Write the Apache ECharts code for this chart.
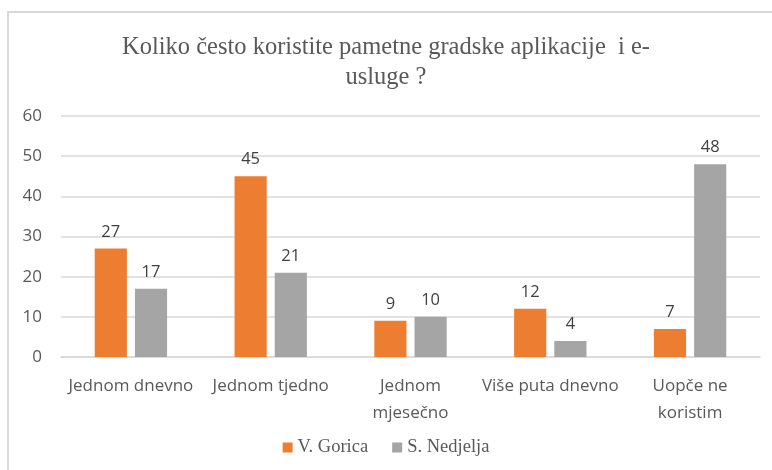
<!DOCTYPE html>
<html lang="hr">
<head>
<meta charset="UTF-8">
<title>Koliko često koristite pametne gradske aplikacije</title>
<script src="https://cdn.jsdelivr.net/npm/echarts@6/dist/echarts.min.js"></script>
<style>
  html, body { margin: 0; padding: 0; background: #fff; }
  #main { width: 772px; height: 470px; }
</style>
</head>
<body>
<div id="main"></div>
<script>
// podaci
var categories = ['Jednom dnevno', 'Jednom tjedno', 'Jednom\nmjesečno', 'Više puta dnevno', 'Uopče ne\nkoristim'];
var gorica = [27, 45, 9, 12, 7];
var nedjelja = [17, 21, 10, 4, 48];
var seriesNames = ['V. Gorica', 'S. Nedjelja'];

var sansFont = 'Open Sans';
var serifFont = 'Liberation Serif';
var textGrey = '#595959';

var labelStyle = {
  show: true,
  position: 'top',
  distance: 8,
  color: '#404040',
  fontFamily: sansFont,
  fontSize: 16.5
};

var option = {
  backgroundColor: '#fff',
  animation: false,
  graphic: [{
    type: 'rect',
    shape: { x: 8, y: 12, width: 800, height: 500 },
    style: { fill: 'none', stroke: '#d9d9d9', lineWidth: 2 },
    silent: true
  }],
  title: {
    text: 'Koliko često koristite pametne gradske aplikacije  i e-\nusluge ?',
    left: 'center',
    top: 28,
    textStyle: {
      fontFamily: serifFont,
      fontWeight: 'normal',
      fontSize: 24.5,
      color: textGrey,
      lineHeight: 30
    }
  },
  legend: {
    bottom: 8,
    left: 'center',
    itemWidth: 10,
    itemHeight: 10,
    itemGap: 24,
    icon: 'rect',
    textStyle: { fontFamily: serifFont, fontSize: 18.5, color: textGrey },
    data: seriesNames
  },
  grid: { left: 61, right: 12, top: 116, bottom: 113 },
  xAxis: {
    type: 'category',
    data: categories,
    axisLine: { lineStyle: { color: '#d9d9d9', width: 1.5 } },
    axisTick: { show: false },
    axisLabel: {
      color: textGrey,
      fontFamily: sansFont,
      fontSize: 17,
      margin: 16,
      lineHeight: 27,
      interval: 0
    }
  },
  yAxis: {
    type: 'value',
    min: 0,
    max: 60,
    interval: 10,
    axisLine: { show: false },
    axisTick: { show: false },
    splitLine: { lineStyle: { color: '#d9d9d9', width: 1.5 } },
    axisLabel: {
      color: textGrey,
      fontFamily: sansFont,
      fontSize: 17,
      margin: 19
    }
  },
  series: [
    {
      name: seriesNames[0],
      type: 'bar',
      data: gorica,
      barWidth: '23%',
      barGap: '25%',
      itemStyle: { color: '#ED7D31' },
      label: labelStyle
    },
    {
      name: seriesNames[1],
      type: 'bar',
      data: nedjelja,
      barWidth: '23%',
      itemStyle: { color: '#A5A5A5' },
      label: labelStyle
    }
  ]
};

var chart = echarts.init(document.getElementById('main'));
chart.setOption(option);
</script>
</body>
</html>
